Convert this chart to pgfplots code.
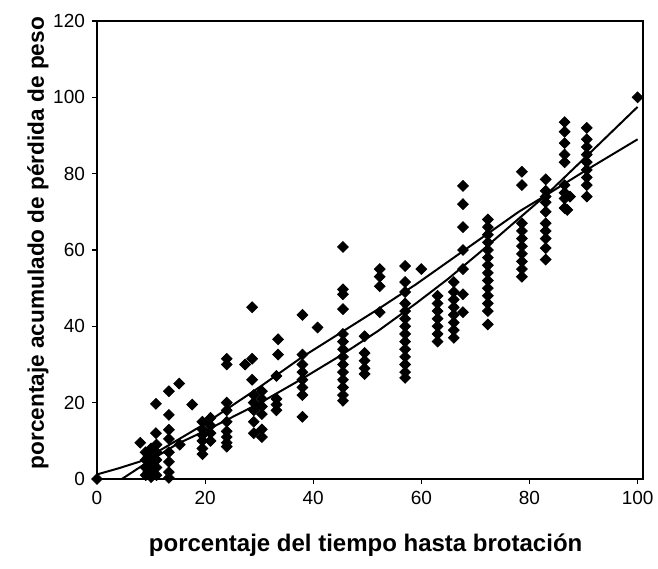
\documentclass[border=0pt]{standalone}
\usepackage{fontspec}
\setmainfont{Liberation Sans}
\usepackage{pgfplots}
\pgfplotsset{compat=1.18}
\begin{document}
\begin{tikzpicture}
\useasboundingbox (-48.5pt,-44.5pt) rectangle (280.5pt,239.5pt);
\begin{axis}[
  at={(0pt,0pt)}, anchor=south west,
  scale only axis, width=273pt, height=229pt,
  xmin=0, xmax=101, ymin=0, ymax=120,
  xtick={0,20,...,100}, ytick={0,20,...,120},
  tick align=outside, xtick pos=bottom, ytick pos=left,
  major tick length=2.5pt,
  tick style={black, line width=0.6pt},
  axis line style={line width=0.6pt},
  /pgf/number format/assume math mode=true,
  tick label style={font=\fontsize{9.5}{11}\selectfont},
  xlabel={porcentaje del tiempo hasta brotación},
  ylabel={porcentaje acumulado de pérdida de peso},
  xlabel style={font=\bfseries\fontsize{12}{14}\selectfont, at={(axis description cs:0.492,-0.144)}, anchor=center},
  ylabel style={font=\bfseries\fontsize{11.3}{13}\selectfont, at={(axis description cs:-0.108,0.515)}, anchor=center},
  clip=false,
]
\addplot[only marks, mark=diamond*, mark size=2.7pt, mark options={xscale=1.33, black, fill=black}] coordinates {
(0,0)
(9,1)(9,3)(9,5)(9,7)(9.5,2)(9.5,6)(10,0.5)(10,2.5)(10,4)(10,6)(10,8)(11,1)(11,3)(11,5)(11,7)(11,9)(8,9.5)(10.9,12)(10.9,19.7)
(13.3,23)(13.3,16.8)(13.3,12.9)(13.3,10.5)(13.3,7)(13.3,4.5)(13.3,1.8)(13.3,0.3)
(15.2,25)(17.6,19.5)(15.3,9)
(19.5,15)(19.5,13)(19.5,11.5)(19.5,10)(19.5,8)(19.5,6.5)(21,16)(21,14)(21,12)(21,10)
(24,31.5)(24,30)(24,20)(24,18)(24,15)(24,12.5)(24,11)(24,9.5)(24,8.5)
(28.7,45)(28.7,31.5)(27.4,30)
(28.7,26)(29,22)(29,20)(29,18)(29,15)(29,12)(30.5,23)(30.5,21)(30.5,19)(30.5,17)(30.5,13)(30.5,11)
(33.5,36.6)(33.5,32.6)(33.2,27)(33.2,21)(33.2,19.5)(33.2,18)
(38,43)(38,32.6)(38,30)(38,28)(38,26)(38,24)(38,22)(38,16.3)(40.8,39.7)
(45.5,60.8)(45.5,49.7)(45.5,48.4)(45.5,44.5)(45.5,38)(45.5,36)(45.5,34)(45.5,32)(45.5,30)(45.5,28)(45.5,26)(45.5,24)(45.5,22)(45.5,20.5)
(49.5,37.4)(49.5,33)(49.5,31)(49.5,29)(49.5,27.5)
(52.3,55)(52.3,53)(52.3,50.5)(52.3,43.7)
(57,55.8)(57,51.6)(57,49)(57,46)(57,44)(57,42)(57,40)(57,38)(57,36)(57,34)(57,32)(57,30)(57,28)(57,26.5)
(60,55)
(63,48)(63,46)(63,44)(63,42)(63,40)(63,38)(63,36)
(66,51.6)(66,49)(66,47)(66,45)(66,43)(66,41)(66,39)(66,37)
(67.7,76.8)(67.7,72)(67.7,66)(67.7,60)(67.7,55)(67.7,48.4)(67.7,43.7)
(72.3,68)(72.3,66)(72.3,64)(72.3,62)(72.3,60)(72.3,58)(72.3,56)(72.3,54)(72.3,52)(72.3,50)(72.3,48)(72.3,46)(72.3,44)(72.3,40.5)
(78.6,80.5)(78.6,77)(78.6,67)(78.6,65)(78.6,63)(78.6,61)(78.6,59)(78.6,57)(78.6,55)(78.6,53)
(83,78.5)(83,75.5)(83,74)(83,72.5)(83,70)(83,67)(83,65)(83,63)(83,60.5)(83,57.5)
(86.5,93.5)(86.5,91)(86.5,88)(86.5,85)(86.5,83)(86.5,77)(86.5,75)(86.5,73.5)(87.5,74)(86.5,71)(87,70.5)
(90.6,92)(90.6,89)(90.6,87)(90.6,85)(90.6,83)(90.6,81)(90.6,79)(90.6,77)(90.6,74)
(100,100)
};
\addplot[black, line width=1pt, no marks] coordinates {
(0,1.2)(4,2.8)(8,4.6)(12,7.8)(15,10.3)(20,14.5)(30,24)(38,32)(52,44.5)(59,51)(71,63)(78,70)(83,74.3)(90,80.5)(100,89)
};
\addplot[black, line width=1pt, no marks] coordinates {
(4.6,0)(10,5)(15,9.3)(20,12.6)(30,19.8)(38,26.3)(45,32.3)(52,38.8)(59,46)(65,52.5)(71,59.6)(78,68.2)(83,74.3)(90.5,84.5)(100,97.5)
};
\end{axis}
\end{tikzpicture}
\end{document}
